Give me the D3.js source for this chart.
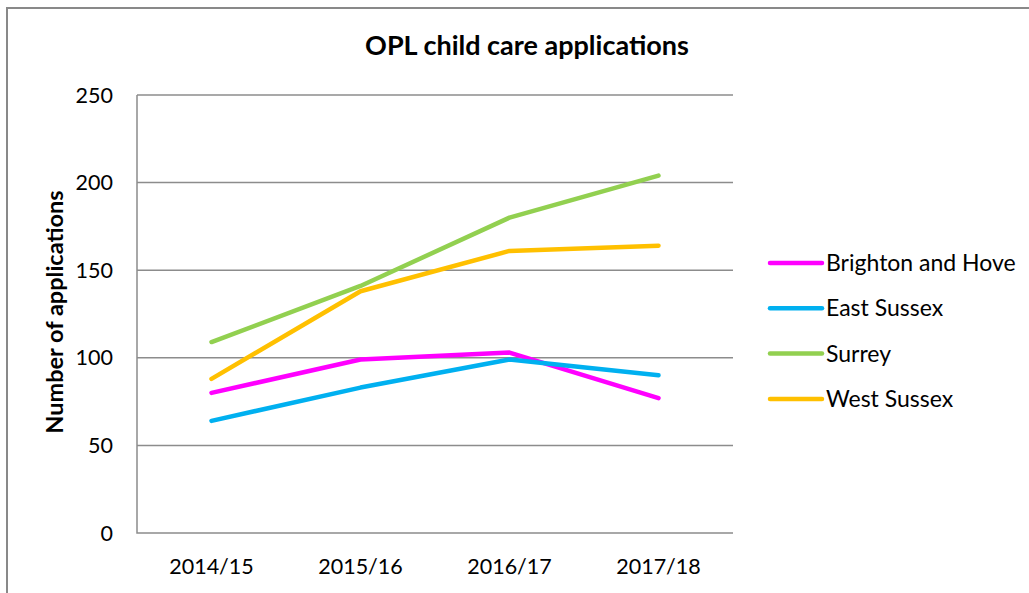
<!DOCTYPE html>
<html>
<head>
<meta charset="utf-8">
<script src="https://cdn.jsdelivr.net/npm/d3@7"></script>
<style>
  body { margin: 0; background: #fff; }
  svg { display: block; font-family: Lato, "Open Sans", sans-serif; }
</style>
</head>
<body>
<div id="chart"></div>
<script>
// categories (x axis)
var years = ["2014/15", "2015/16", "2016/17", "2017/18"];

// series values
var brightonAndHove = [80, 99, 103, 77];
var eastSussex = [64, 83, 99, 90];
var surrey = [109, 141, 180, 204];
var westSussex = [88, 138, 161, 164];

var seriesNames = ["Brighton and Hove", "East Sussex", "Surrey", "West Sussex"];
var seriesColors = ["#ff00ff", "#00b0f0", "#92d050", "#ffc000"];

var yTicks = [0, 50, 100, 150, 200, 250];

var width = 1029, height = 593;
var plot = {left: 137, right: 733, top: 95, bottom: 533};

var svg = d3.select("#chart")
    .append("svg")
    .attr("width", width)
    .attr("height", height);

// outer chart frame (only top and left edges are in view)
svg.append("path")
    .attr("d", "M7,593 L7,8 L1029,8")
    .attr("fill", "none")
    .attr("stroke", "#898989")
    .attr("stroke-width", 2);

var x = d3.scalePoint()
    .domain(years)
    .range([plot.left, plot.right])
    .padding(0.5);

var y = d3.scaleLinear()
    .domain([0, 250])
    .range([plot.bottom, plot.top]);

// gridlines
svg.append("g")
    .selectAll("line")
    .data(yTicks.slice(1))
    .enter()
    .append("line")
    .attr("x1", plot.left)
    .attr("x2", plot.right)
    .attr("y1", function(d) { return y(d); })
    .attr("y2", function(d) { return y(d); })
    .attr("stroke", "#8c8c8c")
    .attr("stroke-width", 1.5);

// axis lines
svg.append("path")
    .attr("d", "M" + plot.left + "," + plot.top + " L" + plot.left + "," + plot.bottom + " L" + plot.right + "," + plot.bottom)
    .attr("fill", "none")
    .attr("stroke", "#8c8c8c")
    .attr("stroke-width", 1.5);

// y tick labels
svg.append("g")
    .selectAll("text")
    .data(yTicks)
    .enter()
    .append("text")
    .attr("x", 113)
    .attr("y", function(d) { return y(d); })
    .attr("dy", "0.35em")
    .attr("text-anchor", "end")
    .style("font-size", "21.5px")
    .attr("fill", "#000")
    .text(function(d) { return d; });

// x tick labels
svg.append("g")
    .selectAll("text")
    .data(years)
    .enter()
    .append("text")
    .attr("x", function(d) { return x(d); })
    .attr("y", 574)
    .attr("text-anchor", "middle")
    .style("font-size", "21.5px")
    .attr("fill", "#000")
    .text(function(d) { return d; });

// title
svg.append("text")
    .attr("x", 527)
    .attr("y", 55)
    .attr("text-anchor", "middle")
    .style("font-size", "27px")
    .style("font-weight", "bold")
    .text("OPL child care applications");

// y axis title
svg.append("text")
    .attr("transform", "translate(63,312) rotate(-90)")
    .attr("text-anchor", "middle")
    .style("font-size", "23.5px")
    .style("font-weight", "bold")
    .text("Number of applications");

// lines
var allSeries = [brightonAndHove, eastSussex, surrey, westSussex];
var line = d3.line()
    .x(function(d, i) { return x(years[i]); })
    .y(function(d) { return y(d); });

svg.append("g")
    .selectAll("path")
    .data(allSeries)
    .enter()
    .append("path")
    .attr("d", line)
    .attr("fill", "none")
    .attr("stroke", function(d, i) { return seriesColors[i]; })
    .attr("stroke-width", 4.5)
    .attr("stroke-linecap", "round")
    .attr("stroke-linejoin", "round");

// legend
var legend = svg.append("g")
    .selectAll("g")
    .data(seriesNames)
    .enter()
    .append("g")
    .attr("transform", function(d, i) { return "translate(770," + (263 + i * 45.3) + ")"; });

legend.append("line")
    .attr("x1", 0)
    .attr("x2", 52)
    .attr("stroke", function(d, i) { return seriesColors[i]; })
    .attr("stroke-width", 4.5)
    .attr("stroke-linecap", "round");

legend.append("text")
    .attr("x", 56)
    .attr("dy", "0.35em")
    .style("font-size", "23px")
    .text(function(d) { return d; });
</script>
</body>
</html>
